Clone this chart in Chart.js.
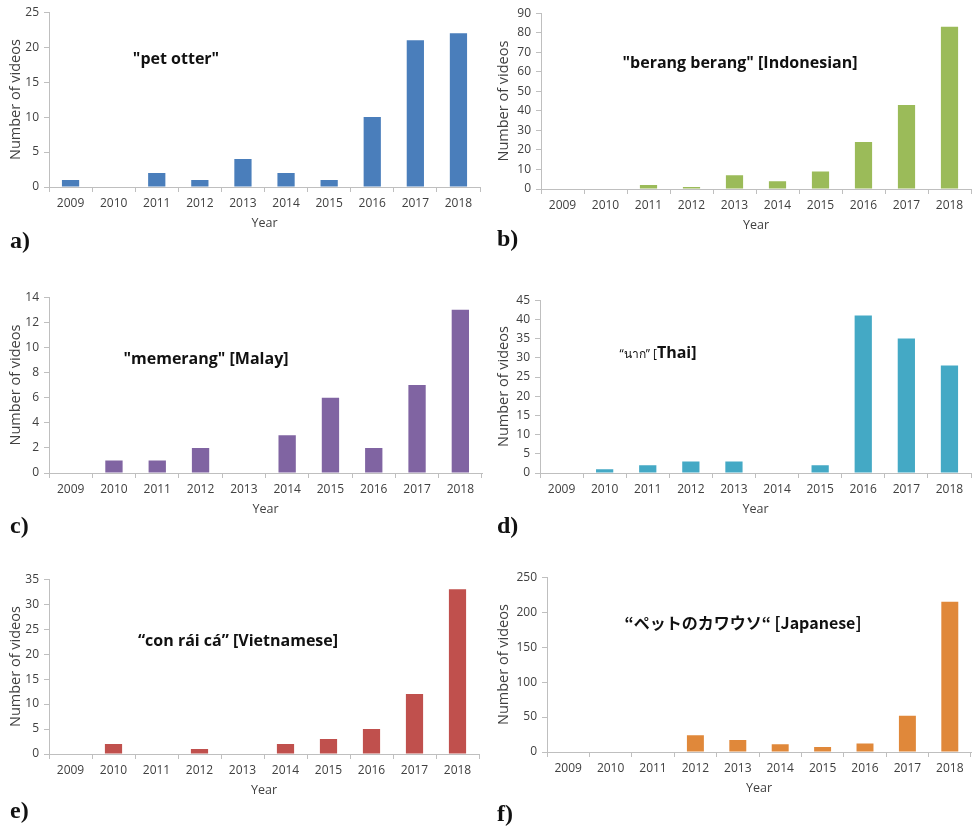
<!DOCTYPE html>
<html>
<head>
<meta charset="utf-8">
<script src="https://cdn.jsdelivr.net/npm/chart.js@4.4.1/dist/chart.umd.min.js"></script>
<style>
  html, body { margin: 0; padding: 0; background: #fff; }
  #page { position: relative; width: 976px; height: 829px; overflow: hidden; }
  .panel { position: absolute; }
  .note { position: absolute; transform: translate(-50%, -50%); white-space: nowrap;
          font-family: 'Open Sans', sans-serif; font-weight: bold; font-size: 16px; color: #111; }
  .note .thin { font-weight: normal; font-size: 12px; }
  .note.jp { font-family: 'Noto Sans CJK JP', 'Open Sans', sans-serif; }
  .letter { position: absolute; transform: translateY(-50%); font-family: 'Liberation Serif', 'DejaVu Serif', serif;
            font-weight: bold; font-size: 24px; color: #111; }
</style>
</head>
<body>
<div id="page"></div>
<script>
  // data
  const years = ['2009', '2010', '2011', '2012', '2013', '2014', '2015', '2016', '2017', '2018']
  const petOtter = [1, 0, 2, 1, 4, 2, 1, 10, 21, 22]
  const berangBerang = [0, 0, 2, 1, 7, 4, 9, 24, 43, 83]
  const memerang = [0, 1, 1, 2, 0, 3, 6, 2, 7, 13]
  const nak = [0, 1, 2, 3, 3, 0, 2, 41, 35, 28]
  const conRaiCa = [0, 2, 0, 1, 0, 2, 3, 5, 12, 33]
  const kawauso = [0, 0, 0, 24, 17, 11, 7, 12, 52, 215]

  const yMax = [25, 90, 14, 45, 35, 250]
  const yStep = [5, 10, 2, 5, 5, 50]

  // panel layout: plot area edges in page pixels
  const panels = [
    { data: petOtter, color: '#4A7EBB', box: 0, L: 49, T: 12, B: 187, R: 480,
      note: '"pet otter"', nx: 176, ny: 58, letter: 'a)', lx: 10, ly: 240 },
    { data: berangBerang, color: '#9BBB59', box: 488, L: 541, T: 13, B: 189, R: 971,
      note: '"berang berang" [Indonesian]', nx: 740, ny: 62, letter: 'b)', lx: 497, ly: 238 },
    { data: memerang, color: '#8064A2', box: 0, L: 49, T: 297, B: 473, R: 482,
      note: '"memerang" [Malay]', nx: 206, ny: 358, letter: 'c)', lx: 10, ly: 525 },
    { data: nak, color: '#44A9C5', box: 488, L: 540, T: 300, B: 473, R: 971,
      html: '<span class="thin">“นาก” [</span>Thai]', nx: 658, ny: 352, letter: 'd)', lx: 497, ly: 525 },
    { data: conRaiCa, color: '#C0504D', box: 0, L: 49, T: 579, B: 754, R: 479,
      note: '“con rái cá” [Vietnamese]', nx: 238, ny: 640, letter: 'e)', lx: 10, ly: 810 },
    { data: kawauso, color: '#E0883A', box: 488, L: 547, T: 577, B: 752, R: 971,
      note: '“ペットのカワウソ“ [Japanese]', jp: true, nx: 743, ny: 622, letter: 'f)', lx: 497, ly: 813 }
  ]

  const page = document.getElementById('page')
  const axisColor = '#BFBFBF'
  const textColor = '#404040'
  const padTop = 12
  const xAxisH = 44

  panels.forEach((p, i) => {
    const w = 488
    const h = (p.B - p.T) + padTop + xAxisH
    const div = document.createElement('div')
    div.className = 'panel'
    div.style.left = p.box + 'px'
    div.style.top = (p.T - padTop) + 'px'
    const canvas = document.createElement('canvas')
    canvas.width = w
    canvas.height = h
    canvas.style.width = w + 'px'
    canvas.style.height = h + 'px'
    div.appendChild(canvas)
    page.appendChild(div)

    new Chart(canvas.getContext('2d'), {
      type: 'bar',
      data: {
        labels: years,
        datasets: [{
          label: '',
          data: p.data,
          backgroundColor: p.color,
          barPercentage: 0.4,
          categoryPercentage: 1
        }]
      },
      options: {
        responsive: false,
        animation: false,
        devicePixelRatio: 1,
        layout: { padding: { top: padTop, left: 0, bottom: 0, right: p.box + w - p.R } },
        plugins: { legend: { display: false }, tooltip: { enabled: false } },
        scales: {
          x: {
            offset: true,
            grid: { display: true, drawOnChartArea: false, drawTicks: true, tickLength: 5, offset: true, color: axisColor },
            border: { display: true, color: axisColor },
            ticks: { color: textColor, font: { family: 'Open Sans', size: 12 }, padding: 4, maxRotation: 0 },
            title: { display: true, text: 'Year', color: textColor, font: { family: 'Open Sans', size: 12.5 }, padding: 0 },
            afterFit: s => { s.height = xAxisH }
          },
          y: {
            min: 0,
            max: yMax[i],
            grid: { display: true, drawOnChartArea: false, drawTicks: true, tickLength: 5, color: axisColor },
            border: { display: true, color: axisColor },
            ticks: { stepSize: yStep[i], color: textColor, font: { family: 'Open Sans', size: 12 }, padding: 5 },
            title: { display: true, text: 'Number of videos', color: textColor, font: { family: 'Open Sans', size: 14.5 }, padding: { top: 7, bottom: 0 } },
            afterFit: s => { s.width = p.L - p.box }
          }
        }
      }
    })

    const note = document.createElement('div')
    note.className = 'note' + (p.jp ? ' jp' : '')
    if (p.html) note.innerHTML = p.html
    else note.textContent = p.note
    note.style.left = p.nx + 'px'
    note.style.top = p.ny + 'px'
    page.appendChild(note)

    const letter = document.createElement('div')
    letter.className = 'letter'
    letter.textContent = p.letter
    letter.style.left = p.lx + 'px'
    letter.style.top = p.ly + 'px'
    page.appendChild(letter)
  })
</script>
</body>
</html>
